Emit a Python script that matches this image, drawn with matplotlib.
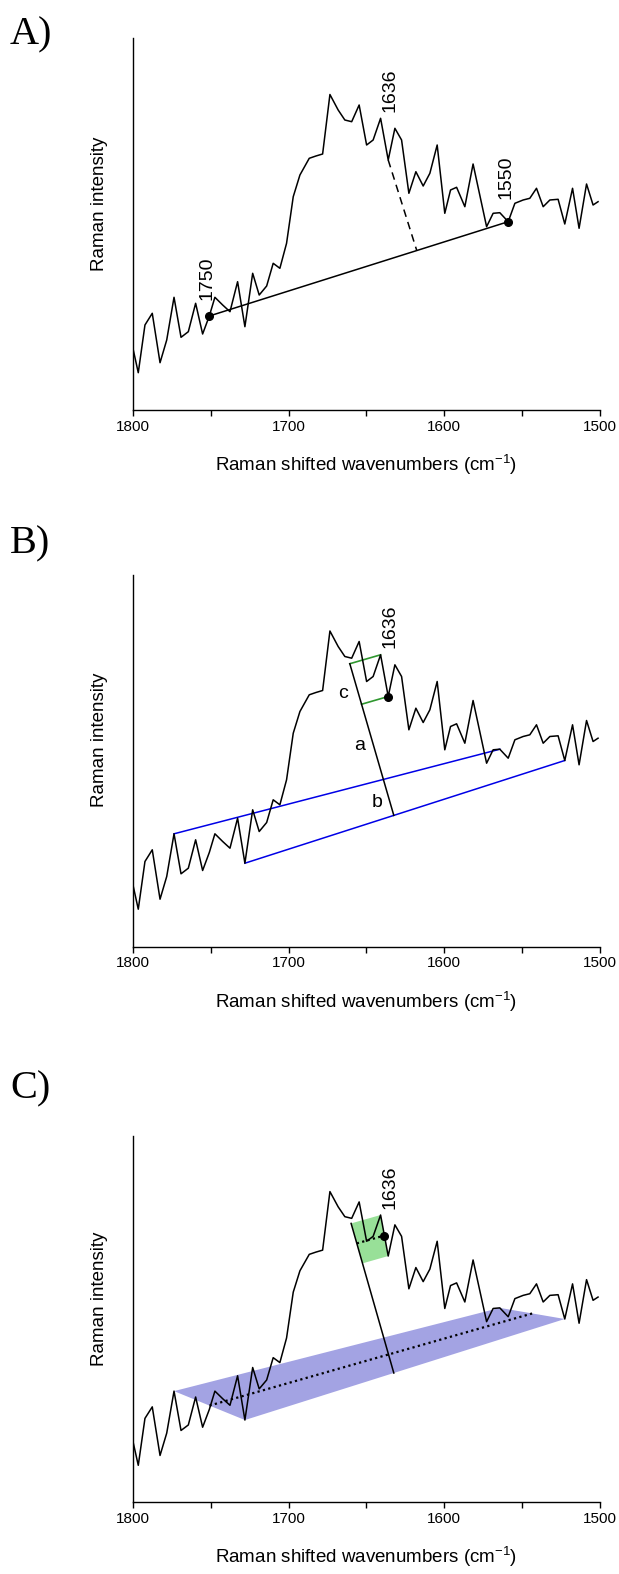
import numpy as np
import matplotlib.pyplot as plt
from matplotlib.patches import Polygon

plt.rcParams['font.family'] = ['Liberation Sans', 'DejaVu Sans']
plt.rcParams['mathtext.fontset'] = 'custom'
plt.rcParams['mathtext.rm'] = 'Liberation Sans'

# spectrum (wavenumber in cm-1, intensity in arbitrary units)
wavenumber = [1800.0, 1796.8, 1792.5, 1787.8, 1782.8, 1778.5, 1773.8, 1769.3, 1764.6, 1759.9,
              1755.4, 1751.1, 1747.5, 1742.5, 1737.8, 1732.9, 1728.2, 1723.2, 1719.0, 1714.2,
              1710.0, 1705.7, 1701.4, 1697.1, 1692.8, 1686.8, 1682.5, 1678.2, 1673.5, 1668.2,
              1663.9, 1659.5, 1654.7, 1649.9, 1645.7, 1640.9, 1636.0, 1631.7, 1627.4, 1622.7,
              1618.2, 1613.5, 1609.2, 1604.5, 1599.6, 1595.9, 1592.0, 1586.7, 1581.4, 1572.7,
              1568.5, 1564.2, 1558.8, 1554.5, 1549.2, 1544.9, 1540.6, 1536.3, 1532.0, 1526.7,
              1522.4, 1517.4, 1513.2, 1508.4, 1504.2, 1501.0]
intensity = [60.0, 37.3, 85.0, 96.7, 47.3, 70.0, 112.7, 72.7, 78.3, 106.7,
             76.0, 94.0, 112.7, 105.0, 98.3, 128.3, 83.3, 136.7, 115.0, 124.0,
             146.7, 141.7, 166.7, 213.3, 235.0, 251.7, 254.0, 256.0, 315.5, 300.0,
             290.0, 288.3, 305.0, 265.0, 270.0, 291.7, 250.0, 281.7, 270.0, 216.7,
             238.3, 224.0, 236.7, 265.0, 196.7, 220.0, 222.7, 203.3, 246.0, 183.3,
             196.7, 197.3, 188.3, 206.7, 210.0, 211.7, 221.7, 203.3, 210.0, 210.7,
             186.0, 221.7, 181.7, 226.0, 205.0, 208.3]

# panel A: straight baseline between two spectrum points, band point 1636
baseline_a_wn = [1751.1, 1558.8]
band_wn = 1636.0
# panel B/C: two baselines (upper and lower) and the band top
upper_wn = [1773.8, 1564.2]
lower_wn = [1728.2, 1522.4]
band_top_wn = 1640.9
ruler_base_wn = 1632.4

W, H = 619, 1574
AX_LEFT, AX_RIGHT = 133.3, 599.6
# (bottom, height) of each panel's axes in pixels
panel_boxes = [(410.0, 372.0), (946.5, 372.0), (1502.0, 366.0)]
letter_y = [35, 544, 1089]
letters = ['A)', 'B)', 'C)']

BLUE = '#0000e6'
GREEN = '#2f972f'
BLUE_FILL = '#a3a3e3'
GREEN_FILL = '#98e098'

wn_asc = np.array(wavenumber)[::-1]
in_asc = np.array(intensity)[::-1]


def spec_at(w):
    return float(np.interp(w, wn_asc, in_asc))


def unit(v):
    return v / np.linalg.norm(v)


def setup_axes(bottom_px, height_px):
    ax = fig.add_axes([AX_LEFT / W, 1 - bottom_px / H, (AX_RIGHT - AX_LEFT) / W, height_px / H])
    ax.set_xlim(1800, 1500)
    ax.set_ylim(0, 372)
    for s in ['top', 'right']:
        ax.spines[s].set_visible(False)
    for s in ['left', 'bottom']:
        ax.spines[s].set_linewidth(1.0)
    ax.set_yticks([])
    ax.set_xticks([1800, 1700, 1600, 1500])
    ax.set_xticks([1750, 1650, 1550], minor=True)
    ax.tick_params(axis='x', which='both', direction='out', length=4, width=1.0,
                   labelsize=11, pad=3)
    ax.set_xlabel('Raman shifted wavenumbers (cm$^{-1}$)', fontsize=13.5, va='center')
    ax.xaxis.set_label_coords(0.5, -55 / height_px)
    ax.set_ylabel('Raman intensity', fontsize=13.5, va='center')
    ax.yaxis.set_label_coords(-34.3 / (AX_RIGHT - AX_LEFT), 0.555)
    ax.plot(wavenumber, intensity, color='black', lw=1.1, zorder=3)
    return ax


def ruler_geometry(ax):
    to_px = ax.transData.transform
    to_dat = ax.transData.inverted().transform
    U0, U1 = to_px([(w, spec_at(w)) for w in upper_wn])
    L0, L1 = to_px([(w, spec_at(w)) for w in lower_wn])
    u = unit(unit(U1 - U0) + unit(L1 - L0))
    n = np.array([-u[1], u[0]])
    if n[1] < 0:
        n = -n
    qx = to_px([(ruler_base_wn, 0)])[0][0]
    t = (qx - L0[0]) / (L1[0] - L0[0])
    Q = L0 + t * (L1 - L0)
    P1, P2 = to_px([(band_top_wn, spec_at(band_top_wn)), (band_wn, spec_at(band_wn))])
    top = Q + np.dot(P1 - Q, n) * n
    f2 = Q + np.dot(P2 - Q, n) * n
    g = dict(U0=U0, U1=U1, L0=L0, L1=L1, Q=Q, top=top, f2=f2, P1=P1, P2=P2)
    return {k: to_dat([v])[0] for k, v in g.items()}


def seg(ax, a, b, **kw):
    ax.plot([a[0], b[0]], [a[1], b[1]], **kw)


fig = plt.figure(figsize=(W / 100, H / 100), dpi=100)
axes = [setup_axes(b, h) for b, h in panel_boxes]
for lab, y in zip(letters, letter_y):
    fig.text(10 / W, 1 - y / H, lab, family='Liberation Serif', fontsize=29, ha='left', va='center')

label_kw = dict(rotation=90, ha='center', va='center', fontsize=14)

# ---- A
ax = axes[0]
b0 = np.array([baseline_a_wn[0], spec_at(baseline_a_wn[0])])
b1 = np.array([baseline_a_wn[1], spec_at(baseline_a_wn[1])])
seg(ax, b0, b1, color='black', lw=1.1, zorder=3)
ax.plot([b0[0], b1[0]], [b0[1], b1[1]], 'o', color='black', ms=5.5, zorder=4)
A_, B_, P_ = ax.transData.transform([b0, b1, (band_wn, spec_at(band_wn))])
d = unit(B_ - A_)
foot = ax.transData.inverted().transform([A_ + np.dot(P_ - A_, d) * d])[0]
seg(ax, (band_wn, spec_at(band_wn)), foot, color='black', lw=1.1, dashes=(5, 3.5), zorder=3)
ax.text(1752.5, 132, '1750', **label_kw)
ax.text(1560.0, 233, '1550', **label_kw)
ax.text(1634.7, 320, '1636', **label_kw)

# ---- B
ax = axes[1]
g = ruler_geometry(ax)
seg(ax, g['U0'], g['U1'], color=BLUE, lw=1.1, zorder=2)
seg(ax, g['L0'], g['L1'], color=BLUE, lw=1.1, zorder=2)
seg(ax, g['Q'], g['top'], color='black', lw=1.1, zorder=3)
seg(ax, g['top'], g['P1'], color=GREEN, lw=1.2, zorder=2)
seg(ax, g['f2'], g['P2'], color=GREEN, lw=1.2, zorder=2)
ax.plot([g['P2'][0]], [g['P2'][1]], 'o', color='black', ms=5.5, zorder=4)
ax.text(1634.7, 320, '1636', **label_kw)
ax.text(1664.9, 252.5, 'c', ha='center', va='center', fontsize=14)
ax.text(1654.7, 201.5, 'a', ha='center', va='center', fontsize=14)
ax.text(1643.0, 144.0, 'b', ha='center', va='center', fontsize=14)

# ---- C
ax = axes[2]
g = ruler_geometry(ax)
ax.add_patch(Polygon([g['U0'], g['U1'], g['L1'], g['L0']], closed=True,
                     facecolor=BLUE_FILL, edgecolor='none', zorder=1))
ax.add_patch(Polygon([g['top'], g['P1'], g['P2'], g['f2']], closed=True,
                     facecolor=GREEN_FILL, edgecolor='none', zorder=1))
seg(ax, g['Q'], g['top'], color='black', lw=1.1, zorder=3)
m0 = (g['U0'] + g['L0']) / 2
m1 = (g['U1'] + g['L1']) / 2
seg(ax, m0, m1, color='black', lw=1.6, linestyle=(0, (1, 1.5)), zorder=3)
mf = (g['top'] + g['f2']) / 2
mp = (g['P1'] + g['P2']) / 2
seg(ax, mf, mp, color='black', lw=1.6, linestyle=(0, (1, 1.5)), zorder=3)
ax.plot([mp[0]], [mp[1]], 'o', color='black', ms=5.5, zorder=4)
ax.text(1634.7, 320, '1636', **label_kw)

fig.savefig('out.png', dpi=100)
